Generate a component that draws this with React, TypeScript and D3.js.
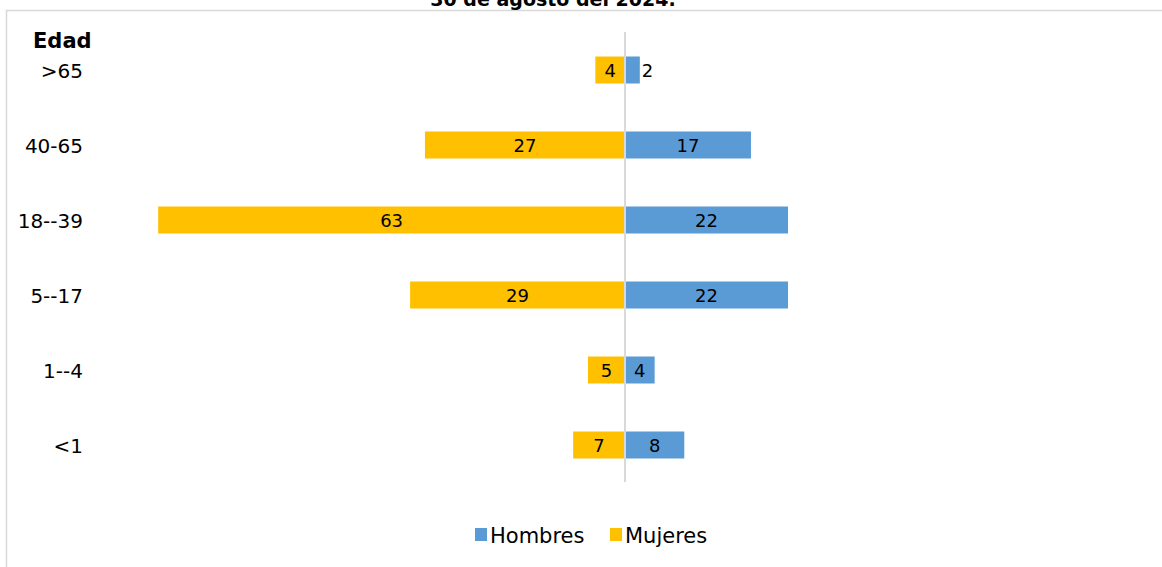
import React from "react";
import * as d3 from "d3";

const categories = [">65", "40-65", "18--39", "5--17", "1--4", "<1"];
const hombres = [2, 17, 22, 22, 4, 8];
const mujeres = [4, 27, 63, 29, 5, 7];
const seriesNames = ["Hombres", "Mujeres"];
const titleText = "30 de agosto del 2024.";
const axisTitle = "Edad";

const W = 1162;
const H = 567;
const BLUE = "#5B9BD5";
const YELLOW = "#FFC000";
const FONT = "'DejaVu Sans', Verdana, sans-serif";

export default function App() {
  const x = d3.scaleLinear().domain([-70, 70]).range([625 - 518.7, 625 + 518.7]);
  const y = d3.scaleBand<string>().domain(categories).range([32.5, 482.5]).padding(0);
  const bh = y.bandwidth() * 0.36;

  return (
    <svg
      width={W}
      height={H}
      style={{ position: "absolute", left: 0, top: 0, background: "#fff" }}
      fontFamily={FONT}
    >
      <rect x={6.5} y={10.5} width={1300} height={700} fill="#fff" stroke="#d9d9d9" strokeWidth={1.5} />
      <text x={553} y={6} textAnchor="middle" fontWeight="bold" fontSize={19} fill="#000">
        {titleText}
      </text>
      <text x={33} y={48} fontWeight="bold" fontSize={21} fill="#000">
        {axisTitle}
      </text>
      {categories.map((c, i) => {
        const cy = (y(c) as number) + y.bandwidth() / 2;
        const m = mujeres[i];
        const h = hombres[i];
        const mx0 = x(-m);
        const hx1 = x(h);
        const hw = hx1 - x(0);
        const hInside = hw > 25;
        return (
          <g key={c}>
            <text x={83} y={cy + 8} textAnchor="end" fontSize={20} fill="#000">
              {c}
            </text>
            <rect x={mx0} y={cy - bh / 2} width={x(0) - mx0} height={bh} fill={YELLOW} />
            <rect x={x(0)} y={cy - bh / 2} width={hw} height={bh} fill={BLUE} />
            <text x={(mx0 + x(0)) / 2} y={cy + 6.5} textAnchor="middle" fontSize={18} fill="#000">
              {m}
            </text>
            <text
              x={hInside ? (x(0) + hx1) / 2 : hx1 + 2}
              y={cy + 6.5}
              textAnchor={hInside ? "middle" : "start"}
              fontSize={18}
              fill="#000"
            >
              {h}
            </text>
          </g>
        );
      })}
      <line x1={x(0)} x2={x(0)} y1={32} y2={482} stroke="#d9d9d9" strokeWidth={2} />
      <g>
        <rect x={475} y={528} width={12} height={13} fill={BLUE} />
        <text x={490} y={543} fontSize={21} fill="#000">
          {seriesNames[0]}
        </text>
        <rect x={610} y={528} width={12} height={13} fill={YELLOW} />
        <text x={625} y={543} fontSize={21} fill="#000">
          {seriesNames[1]}
        </text>
      </g>
    </svg>
  );
}
